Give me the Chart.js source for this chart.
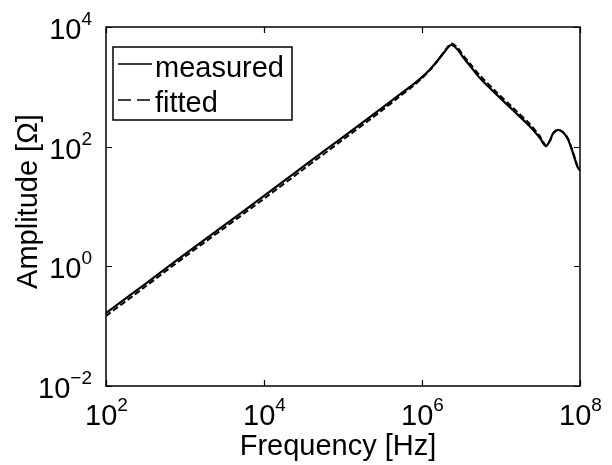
<!DOCTYPE html>
<html>
<head>
<meta charset="utf-8">
<script src="https://cdn.jsdelivr.net/npm/chart.js@4/dist/chart.umd.min.js"></script>
<style>
  html, body { margin: 0; padding: 0; background: #fff; }
  canvas { display: block; }
</style>
</head>
<body>
<canvas id="impedanceChart" width="612" height="465"></canvas>
<script>
// frequency points [Hz]
const freqs = [100, 316, 1000, 3160, 1e4, 3.16e4, 1e5, 3.16e5, 5.0e5, 7.9e5, 1e6, 1.26e6, 1.58e6, 2.0e6, 2.34e6, 2.82e6,
               3.3e6, 4.0e6, 5.4e6, 8.9e6, 1.41e7, 2.34e7, 3.1e7, 3.7e7, 4.2e7, 4.6e7, 5.4e7, 6.8e7, 8.1e7, 9.3e7, 1e8];
// amplitude [Ohm]
const measured = [0.166, 0.51, 1.6, 4.9, 15, 47, 145, 450, 710, 1120, 1450, 1950, 2750, 4100, 5000, 4200,
                  3150, 2300, 1400, 730, 410, 215, 140, 102, 130, 170, 190, 145, 80, 46, 40];
const fitted = [0.148, 0.46, 1.45, 4.4, 13.5, 42, 131, 410, 660, 1060, 1400, 1900, 2750, 4200, 5300, 4500,
                3400, 2500, 1550, 800, 450, 235, 150, 105, 128, 168, 192, 148, 82, 47, 41];

// tick exponents (labels are 10^n)
const xTickExps = [2, 4, 6, 8];
const yTickExps = [-2, 0, 2, 4];

const fontFamily = '"Liberation Sans", Arial, sans-serif';
const baseFont = '29px ' + fontFamily;
const expFont = '19px ' + fontFamily;

function toPoints(ys) {
    return freqs.map((f, i) => ({ x: f, y: ys[i] }));
}

// draws "10" with a raised exponent
function drawPow(ctx, x, baseline, exp, align) {
    const e = String(exp).replace('-', '\u2212');
    ctx.font = baseFont;
    const wBase = ctx.measureText('10').width;
    ctx.font = expFont;
    const wExp = ctx.measureText(e).width;
    const total = wBase + wExp;
    let start = align === 'right' ? x - total : x - total / 2;
    ctx.textAlign = 'left';
    ctx.textBaseline = 'alphabetic';
    ctx.font = baseFont;
    ctx.fillText('10', start, baseline);
    ctx.font = expFont;
    ctx.fillText(e, start + wBase, baseline - 14);
}

const framePlugin = {
    id: 'matlabFrame',
    afterDraw(chart) {
        const { ctx, chartArea: a, scales: { x, y } } = chart;
        ctx.save();
        ctx.strokeStyle = '#000';
        ctx.fillStyle = '#000';
        ctx.lineWidth = 1.5;
        ctx.strokeRect(a.left, a.top, a.right - a.left, a.bottom - a.top);

        // inward ticks + labels
        ctx.lineWidth = 1.2;
        xTickExps.forEach(n => {
            const px = Math.round(x.getPixelForValue(Math.pow(10, n))) + 0.5;
            ctx.beginPath();
            ctx.moveTo(px, a.bottom); ctx.lineTo(px, a.bottom - 6);
            ctx.moveTo(px, a.top); ctx.lineTo(px, a.top + 6);
            ctx.stroke();
            drawPow(ctx, px, a.bottom + 39, n, 'center');
        });
        yTickExps.forEach(n => {
            const py = Math.round(y.getPixelForValue(Math.pow(10, n))) + 0.5;
            ctx.beginPath();
            ctx.moveTo(a.left, py); ctx.lineTo(a.left + 6, py);
            ctx.moveTo(a.right, py); ctx.lineTo(a.right - 6, py);
            ctx.stroke();
            drawPow(ctx, a.left - 14, py + 11, n, 'right');
        });

        // axis titles
        ctx.font = baseFont;
        ctx.textAlign = 'center';
        ctx.textBaseline = 'alphabetic';
        ctx.fillText('Frequency [Hz]', (a.left + a.right) / 2 - 5, 455);
        ctx.save();
        ctx.translate(37, (a.top + a.bottom) / 2 - 5);
        ctx.rotate(-Math.PI / 2);
        ctx.fillText('Amplitude [\u03A9]', 0, 0);
        ctx.restore();

        // legend box
        const lx = 113, ly = 47, lw = 179, lh = 73;
        ctx.fillStyle = '#fff';
        ctx.fillRect(lx, ly, lw, lh);
        ctx.strokeStyle = '#000';
        ctx.lineWidth = 1.5;
        ctx.strokeRect(lx, ly, lw, lh);
        ctx.fillStyle = '#000';
        ctx.textAlign = 'left';
        chart.data.datasets.forEach((ds, i) => {
            const rowY = [64, 100][i];
            ctx.beginPath();
            ctx.lineWidth = 1.5;
            ctx.setLineDash(i === 0 ? [] : [13, 6]);
            ctx.moveTo(118, rowY); ctx.lineTo(152, rowY);
            ctx.stroke();
            ctx.setLineDash([]);
            ctx.font = baseFont;
            ctx.fillText(ds.label, 155, [77, 112][i]);
        });
        ctx.restore();
    }
};

new Chart(document.getElementById('impedanceChart'), {
    type: 'line',
    data: {
        datasets: [
            {
                label: 'measured',
                data: toPoints(measured),
                borderColor: '#000',
                borderWidth: 2.2,
                pointRadius: 0,
                tension: 0.3,
                fill: false
            },
            {
                label: 'fitted',
                data: toPoints(fitted),
                borderColor: '#000',
                borderWidth: 2,
                borderDash: [6, 3],
                pointRadius: 0,
                tension: 0.3,
                fill: false
            }
        ]
    },
    options: {
        responsive: false,
        animation: false,
        devicePixelRatio: 1,
        layout: { padding: { left: 106, right: 32, top: 27, bottom: 79 } },
        scales: {
            x: { type: 'logarithmic', min: 100, max: 1e8, display: false },
            y: { type: 'logarithmic', min: 0.01, max: 1e4, display: false }
        },
        plugins: {
            legend: { display: false },
            tooltip: { enabled: false }
        }
    },
    plugins: [framePlugin]
});
</script>
</body>
</html>
